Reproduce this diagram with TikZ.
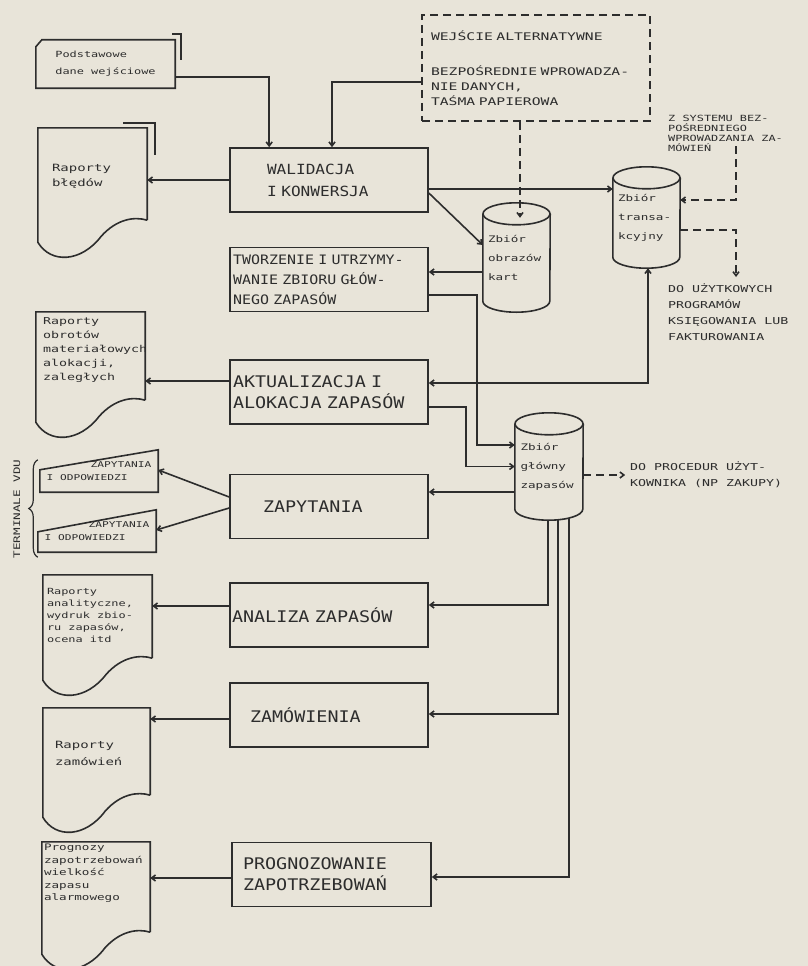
\documentclass[tikz,border=0pt]{standalone}
\usepackage{fontspec}
\newfontfamily\hand[FakeStretch=1.15]{DejaVu Sans Mono}
\newfontfamily\handwide[FakeStretch=1.4]{DejaVu Sans Mono}
\usetikzlibrary{calc,arrows.meta,decorations.pathreplacing}
\definecolor{paper}{RGB}{232,228,217}
\definecolor{ink}{RGB}{45,45,45}

% document with a wavy lower edge
\newcommand\docshape[1]{%
  \draw[line] (#1.south east) -- (#1.north east) -- (#1.north west)
    -- ($(#1.south west)+(0,22)$)
    .. controls ($(#1.south west)!.12!(#1.south east)+(0,44)$)
           and ($(#1.south west)!.40!(#1.south east)+(0,42)$)
    .. ($(#1.south west)!.58!(#1.south east)+(0,16)$)
    .. controls ($(#1.south west)!.72!(#1.south east)+(0,-1)$)
           and ($(#1.south west)!.88!(#1.south east)+(0,-4)$)
    .. (#1.south east);}
% drum (disk file)
\newcommand\drum[2]{%
  \draw[line] ($(#1.north)+(0,11)$) ellipse [x radius=#2, y radius=11];
  \draw[line] ($(#1.north west)+(0,11)$) -- ($(#1.south west)+(0,-11)$)
    arc [start angle=180, end angle=0, x radius=#2, y radius=11]
    -- ($(#1.north east)+(0,11)$);}
% terminal with a sloping top
\newcommand\termshape[2]{%
  \draw[line] (#1.south west) -- ($(#1.north west)+(0,#2)$) -- (#1.north east) -- (#1.south east) -- cycle;}

\begin{document}
\begin{tikzpicture}
      [x=1pt,y=-1pt
      ,>={Straight Barb[length=4pt,width=6pt]}
      ,every node/.append style={text=ink}
      ,line/.style={draw=ink,line width=1.6pt}
      ,altline/.style={line,dash pattern=on 8pt off 5pt}
      ,proc/.style={line,rectangle,minimum width=198pt,minimum height=64pt,inner sep=0pt,align=left,font=\hand\fontsize{16}{21}\selectfont}
      ,store/.style={rectangle,minimum width=67pt,inner sep=0pt,text width=57pt,align=left,font=\handwide\fontsize{9}{19}\selectfont}
      ,docbox/.style={rectangle,minimum width=108pt,inner sep=0pt}
      ,doctxt/.style={anchor=north west,inner sep=0pt,align=left}
      ,termbox/.style={rectangle,minimum width=118pt,minimum height=42pt,inner sep=0pt,align=left,font=\handwide\fontsize{8}{13}\selectfont}
      ,note/.style={anchor=north west,inner sep=0pt,align=left,font=\handwide\fontsize{8.5}{10}\selectfont}
      ]
        \useasboundingbox (0,0) rectangle (808,966);
        \fill[paper] (0,0) rectangle (808,966);

        % processing steps
        \node[proc,font=\hand\fontsize{14}{22}\selectfont,inner xsep=37pt,text width=124pt] (wal) at (329,180) {WALIDACJA\\I KONWERSJA};
        \node[proc,font=\hand\fontsize{13}{20}\selectfont,inner xsep=3pt,text width=192pt] (two) at (329,279.5) {TWORZENIE I UTRZYMY-\\WANIE ZBIORU GŁÓW-\\NEGO ZAPASÓW};
        \node[proc,inner xsep=3pt,text width=192pt] (akt) at (329,392) {AKTUALIZACJA I\\ALOKACJA ZAPASÓW};
        \node[proc,inner xsep=33pt,text width=132pt] (zap) at (329,506.5) {ZAPYTANIA};
        \node[proc,inner xsep=2pt,text width=194pt] (ana) at (329,615) {ANALIZA ZAPASÓW};
        \node[proc,inner xsep=20pt,text width=158pt] (zam) at (329,715) {ZAMÓWIENIA};
        \node[proc,inner xsep=11pt,text width=177pt] (pro) at (331.5,874.5) {PROGNOZOWANIE\\ZAPOTRZEBOWAŃ};

        % alternative input
        \node[altline,rectangle,minimum width=228pt,minimum height=106pt,inner sep=0pt,text width=210pt,align=left,font=\handwide\fontsize{10.5}{15}\selectfont] (alt) at (536,68)
            {WEJŚCIE ALTERNATYWNE\\[20pt]BEZPOŚREDNIE WPROWADZA-\\NIE DANYCH,\\TAŚMA PAPIEROWA};

        % files
        \node[store,minimum height=109pt] (kart) at (516.5,257.5) {Zbiór\\obrazów\\kart};
        \node[store,minimum height=101pt] (trans) at (646.5,217.5) {Zbiór\\transa-\\kcyjny};
        \node[store,minimum width=68pt,minimum height=107pt] (main) at (549,466.5) {Zbiór\\główny\\zapasów};
        \drum{kart}{33.5}
        \drum{trans}{33.5}
        \drum{main}{34}

        % input card
        \node[docbox,minimum width=139pt,minimum height=48pt,align=left,font=\handwide\fontsize{8.5}{17}\selectfont] (podst) at (105.5,64) {Podstawowe\\dane wejściowe};
        \draw[line] (podst.south west) -- ($(podst.north west)+(0,7)$) -- ($(podst.north west)+(6,0)$) -- (podst.north east) -- (podst.south east) -- cycle;
        \draw[line] ($(podst.north east)+(-3,-6)$) -- ++(9,0) -- ++(0,26);

        % reports
        \node[docbox,minimum width=109pt,minimum height=92pt] (bledy) at (92.5,174) {};
        \node[docbox,minimum width=109pt,minimum height=88pt] (obroty) at (90.5,356) {};
        \node[docbox,minimum width=109pt,minimum height=83pt] (analit) at (97.5,616.5) {};
        \node[docbox,minimum width=107pt,minimum height=87pt] (zamow) at (96.5,751.5) {};
        \node[docbox,minimum height=90pt] (progn) at (96,887) {};
        \foreach \d in {bledy,obroty,analit,zamow,progn}
            \docshape{\d}
        \draw[line] ($(bledy.north east)+(-24,-5)$) -- ++(32,0) -- ++(0,32);

        \node[doctxt,font=\handwide\fontsize{10}{15}\selectfont] (bledyt) at ($(bledy.north west)+(14,36)$) {Raporty\\błędów};
        \node[doctxt,font=\handwide\fontsize{9.5}{14}\selectfont] (obrotyt) at ($(obroty.north west)+(7,6)$) {Raporty\\obrotów\\materiałowych\\alokacji,\\zaległych};
        \node[doctxt,font=\handwide\fontsize{8.5}{12}\selectfont] (analitt) at ($(analit.north west)+(4,13)$) {Raporty\\analityczne,\\wydruk zbio-\\ru zapasów,\\ocena itd};
        \node[doctxt,font=\handwide\fontsize{10}{17}\selectfont] (zamowt) at ($(zamow.north west)+(12,33)$) {Raporty\\zamówień};
        \node[doctxt,font=\handwide\fontsize{9}{12.5}\selectfont] (prognt) at ($(progn.north west)+(2,2)$) {Prognozy\\zapotrzebowań\\wielkość\\zapasu\\alarmowego};

        % terminals
        \node[termbox] (term1) at (99,471) {\hspace*{44pt}ZAPYTANIA\\I ODPOWIEDZI};
        \node[termbox] (term2) at (97,531) {\hspace*{44pt}ZAPYTANIA\\I ODPOWIEDZI};
        \termshape{term1}{20}
        \termshape{term2}{22}
        \draw[line,line width=1.2pt,decorate,decoration={brace,amplitude=9pt}] ($(term2.south west)+(0,5)$) -- ($(term1.north west)+(-2,10)$);
        \node[font=\handwide\fontsize{9}{9}\selectfont,rotate=90] (vdu) at (17,509) {TERMINALE VDU};

        % outside notes
        \node[note] (zsys) at (668,115) {Z SYSTEMU BEZ-\\POŚREDNIEGO\\WPROWADZANIA ZA-\\MÓWIEŃ};
        \coordinate (zin) at (736,146);
        \coordinate (kout) at (736,277);
        \node[note,font=\handwide\fontsize{9.5}{16}\selectfont] (ksieg) at ($(kout)+(-68,7)$) {DO UŻYTKOWYCH\\PROGRAMÓW\\KSIĘGOWANIA LUB\\FAKTUROWANIA};

        % connectors
        \draw[line,->] ($(podst.east)+(0,13)$) -| ($(wal.north west)+(40,0)$);
        \draw[line,->] ($(alt.west)+(0,14)$) -| ($(wal.north)+(3,0)$);
        \draw[line,->] (wal.west) -- (wal.west -| bledy.east);
        \coordinate (w1) at ($(wal.east)+(0,9)$);
        \draw[line,->] (w1) -- (w1 -| trans.west);
        \draw[line,->] ($(wal.east)+(0,13)$) -- ($(kart.west)+(0,-12.5)$);
        \coordinate (kartin) at ($(kart.north)+(3.5,15)$);
        \draw[altline,->] (kartin |- alt.south) -- (kartin);
        \coordinate (k1) at ($(kart.west)+(0,14.5)$);
        \draw[line,->] (k1) -- (k1 -| two.east);
        \draw[line,->] ($(two.east)+(0,15.5)$) -- ++(48,0) |- ($(main.west)+(0,-21.5)$);
        \draw[line,<->] ($(akt.east)+(0,-9)$) -| ($(trans.south)+(1.5,0)$);
        \draw[line,->] ($(akt.east)+(0,15)$) -- ++(37,0) |- (main.west);
        \coordinate (a1) at ($(akt.west)+(0,-11)$);
        \draw[line,->] (a1) -- (a1 -| obroty.east);
        \coordinate (m1) at ($(main.west)+(0,25.5)$);
        \draw[line,->] (m1) -- (m1 -| zap.east);
        \draw[line,->] ($(zap.west)+(0,-9.5)$) -- ($(term1.east)+(0,-1)$);
        \draw[line,->] ($(zap.west)+(0,1.5)$) -- ($(term2.east)+(0,-1)$);
        \draw[altline,->] ($(main.east)+(0,8.5)$) -- ++(42,0)
            node[note,anchor=west,xshift=4pt,font=\handwide\fontsize{9.5}{16}\selectfont] (uzyt) {DO PROCEDUR UŻYT-\\KOWNIKA (NP ZAKUPY)};
        \draw[line,->] ($(main.south)+(-1,0)$) |- ($(ana.east)+(0,-10)$);
        \draw[line,->] ($(main.south)+(9,-0.5)$) |- ($(zam.east)+(0,-1)$);
        \draw[line,->] ($(main.south)+(20,-2.1)$) |- ($(pro.east)+(0,2.5)$);
        \coordinate (n1) at ($(ana.west)+(0,-9)$);
        \draw[line,->] (n1) -- (n1 -| analit.east);
        \coordinate (z1) at ($(zam.west)+(0,4)$);
        \draw[line,->] (z1) -- (z1 -| zamow.east);
        \coordinate (p1) at ($(pro.west)+(0,3.5)$);
        \draw[line,->] (p1) -- (p1 -| progn.east);
        \draw[altline,->] (zin) |- ($(trans.east)+(0,-17.5)$);
        \draw[altline,->] ($(trans.east)+(0,12.5)$) -| (kout);
\end{tikzpicture}
\end{document}
